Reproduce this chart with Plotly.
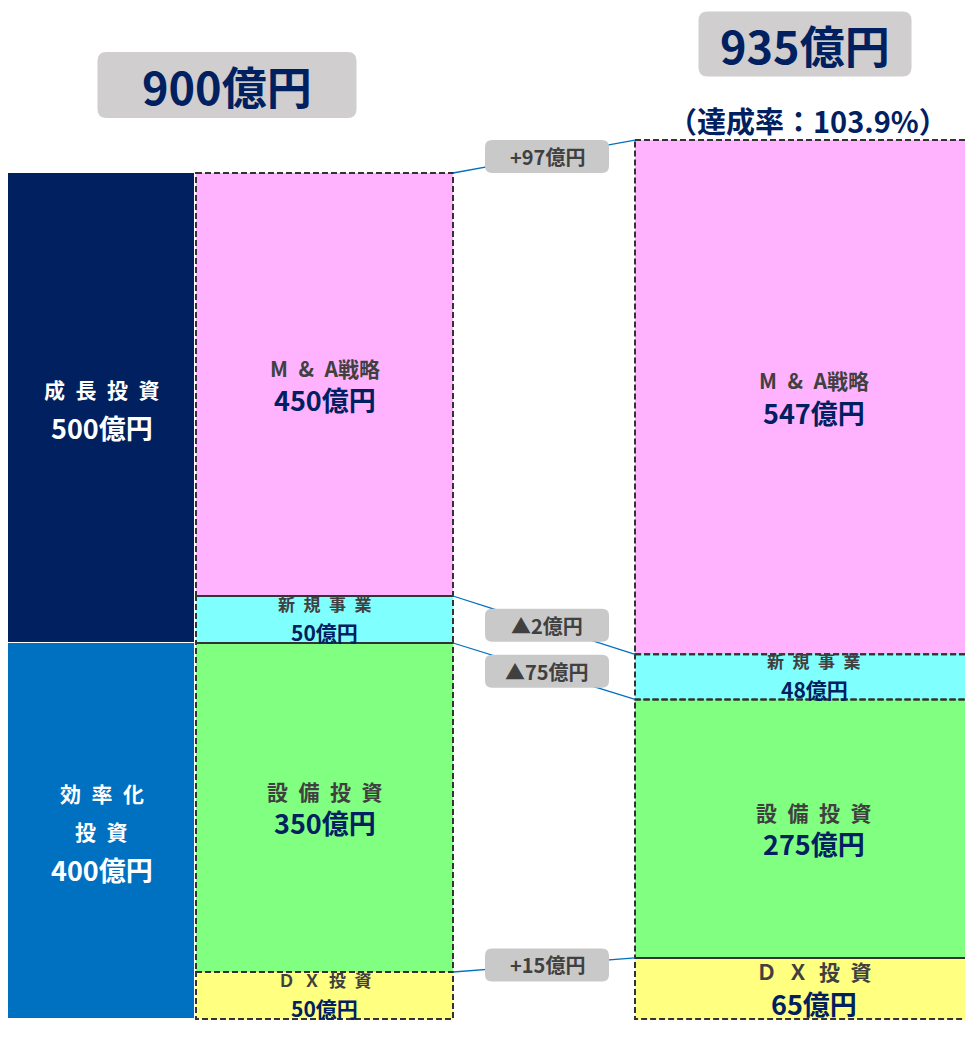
import plotly.graph_objects as go

# ---------------- data ----------------
seg_names = ["M\u2002&\u2002A戦略", "新\u2002規\u2002事\u2002業", "設\u2002備\u2002投\u2002資", "Ｄ\u2002Ｘ\u2002投\u2002資"]
plan_values = [450, 50, 350, 50]
actual_values = [547, 48, 275, 65]
group_names = ["成\u2002長\u2002投\u2002資", "効\u2002率\u2002化<br>投\u2002資"]
group_values = [500, 400]
unit = "億円"

# ---------------- style ----------------
seg_colors = ["#FFB3FF", "#80FFFF", "#80FF80", "#FFFF80"]
group_colors = ["#002060", "#0070C0"]
NAVY = "#002060"
DGRAY = "#404040"
FONT = "Noto Sans CJK JP"
W, H = 973, 1040
OFF = 8                      # page body margin
WF, HF = W - 2 * OFF, H - 2 * OFF   # figure size that fits the window without scrollbars
S = 0.94                     # px per unit
TOP_PX = 173                 # screen pixel of the plan top

plan_total = sum(plan_values)
actual_total = sum(actual_values)

def cum_starts(vals, base=0):
    out, c = [], base
    for v in vals:
        out.append(c)
        c += v
    return out

plan_starts = cum_starts(plan_values)
actual_starts = cum_starts(actual_values, plan_total - actual_total)
group_starts = cum_starts(group_values)

y_min = -(TOP_PX - OFF) / S
y_max = y_min + HF / S

# column geometry (x axis in screen-pixel-like units)
GX0, GX1 = 8, 195
PX0, PX1 = 196, 453
AX0, AX1 = 635, 993

fig = go.Figure()
fig.add_trace(go.Bar(x=[(GX0 + GX1) / 2] * len(group_values), y=group_values, base=group_starts,
                     width=GX1 - GX0, marker=dict(color=group_colors, line=dict(color="white", width=1)),
                     hoverinfo="skip"))
fig.add_trace(go.Bar(x=[(PX0 + PX1) / 2] * len(plan_values), y=plan_values, base=plan_starts,
                     width=PX1 - PX0, marker=dict(color=seg_colors, line=dict(width=0)),
                     hoverinfo="skip"))
fig.add_trace(go.Bar(x=[(AX0 + AX1) / 2] * len(actual_values), y=actual_values, base=actual_starts,
                     width=AX1 - AX0, marker=dict(color=seg_colors, line=dict(width=0)),
                     hoverinfo="skip"))

shapes = []
annotations = []
DASH = dict(color="#333333", width=2, dash="6px,3px")

# dashed outlines
for st, v in zip(plan_starts, plan_values):
    shapes.append(dict(type="rect", xref="x", yref="y", x0=PX0, x1=PX1, y0=st, y1=st + v,
                       line=DASH, fillcolor="rgba(0,0,0,0)"))
for st, v in zip(actual_starts, actual_values):
    shapes.append(dict(type="rect", xref="x", yref="y", x0=AX0, x1=AX1, y0=st, y1=st + v,
                       line=DASH, fillcolor="rgba(0,0,0,0)"))


def rounded_path(w, h, r):
    x0, x1, y0, y1 = -w / 2, w / 2, -h / 2, h / 2
    return (f"M {x0+r},{y0} L {x1-r},{y0} Q {x1},{y0} {x1},{y0+r} L {x1},{y1-r} "
            f"Q {x1},{y1} {x1-r},{y1} L {x0+r},{y1} Q {x0},{y1} {x0},{y1-r} "
            f"L {x0},{y0+r} Q {x0},{y0} {x0+r},{y0} Z")

def ann(x, y, text, size, color, ref="data", yshift=0):
    r = ("x", "y") if ref == "data" else ("paper", "paper")
    return dict(x=x, y=y, xref=r[0], yref=r[1], text=text, showarrow=False,
                xanchor="center", yanchor="middle", yshift=yshift,
                font=dict(family=FONT, size=size, color=color))

# connector lines + difference boxes
mid_x = (PX1 + AX0) / 2 + 3
for ps, as_, pv, av in zip(plan_starts, actual_starts, plan_values, actual_values):
    shapes.append(dict(type="line", xref="x", yref="y", x0=PX1, x1=AX0, y0=ps, y1=as_,
                       line=dict(color="#0070C0", width=1.3)))
    ym = (ps + as_) / 2
    shapes.append(dict(type="path", xref="x", yref="y", xsizemode="pixel", ysizemode="pixel",
                       xanchor=mid_x, yanchor=ym, path=rounded_path(124, 33, 7),
                       fillcolor="#C9C9C9", line=dict(width=0)))
    d = av - pv
    lab = f"+{d}{unit}" if d > 0 else f"▲{-d}{unit}"
    annotations.append(ann(mid_x, ym, f"<b>{lab}</b>", 20, DGRAY))

# segment labels
for col_x0, col_x1, starts, vals in [(PX0, PX1, plan_starts, plan_values),
                                     (AX0, AX1, actual_starts, actual_values)]:
    cx = (col_x0 + col_x1) / 2
    for name, st, v in zip(seg_names, starts, vals):
        ym = st + v / 2
        if v * S < 60:
            nsz, vsz, up, down = 17, 21, 16, -12
        else:
            nsz, vsz, up, down = 21, 27, 17, -15
        annotations.append(ann(cx, ym, f"<b>{name}</b>", nsz, DGRAY, yshift=up))
        annotations.append(ann(cx, ym, f"<b>{v}{unit}</b>", vsz, NAVY, yshift=down))

# group labels
gcx = (GX0 + GX1) / 2
for name, st, v in zip(group_names, group_starts, group_values):
    ym = st + v / 2
    lines = name.split("<br>") + [f"{v}{unit}"]
    n = len(lines)
    gap = 38
    for i, ln in enumerate(lines):
        sz = 27 if i == n - 1 else 21
        annotations.append(ann(gcx, ym, f"<b>{ln}</b>", sz, "white", yshift=(n - 1) / 2 * gap - i * gap))

# titles
def pxp(px, py):
    return (px - OFF) / WF, 1 - (py - OFF) / HF

for cx_px, cy_px, bw, bh, total in [(227, 85, 259, 66, plan_total), (805, 44, 213, 65, actual_total)]:
    xp, yp = pxp(cx_px, cy_px)
    shapes.append(dict(type="path", xref="paper", yref="paper", xsizemode="pixel", ysizemode="pixel",
                       xanchor=xp, yanchor=yp, path=rounded_path(bw, bh, 9),
                       fillcolor="#D0CECE", line=dict(width=0)))
    annotations.append(ann(xp, yp, f"<b>{total}{unit}</b>", 45, NAVY, ref="paper"))

rate = actual_total / plan_total * 100
xp, yp = pxp(808, 120)
annotations.append(ann(xp, yp, f"<b>（達成率：{rate:.1f}%）</b>", 29, NAVY, ref="paper"))

fig.update_layout(
    width=WF, height=HF, margin=dict(l=0, r=0, t=0, b=0),
    paper_bgcolor="white", plot_bgcolor="white",
    barmode="overlay", bargap=0, showlegend=False,
    xaxis=dict(range=[OFF, OFF + WF], visible=False, fixedrange=True),
    yaxis=dict(range=[y_max, y_min], visible=False, fixedrange=True),
    shapes=shapes, annotations=annotations,
    font=dict(family=FONT),
)

fig.write_html("out.html")
